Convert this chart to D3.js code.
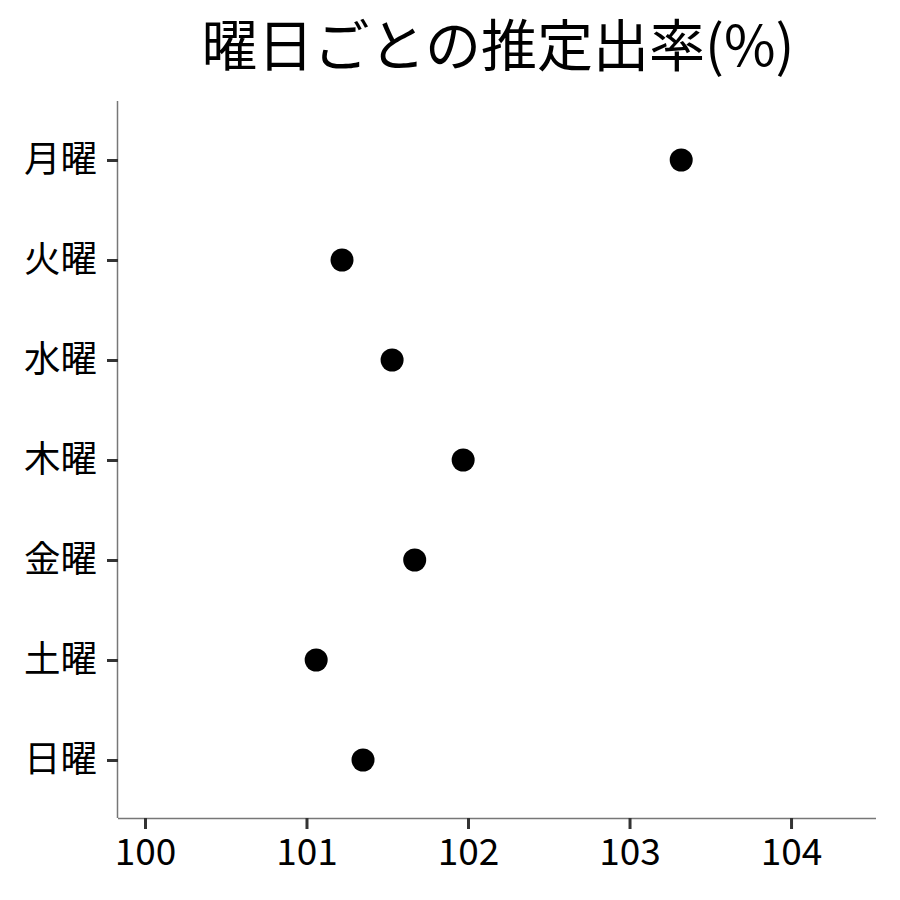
<!DOCTYPE html>
<html><head><meta charset="utf-8">
<script src="https://cdn.jsdelivr.net/npm/d3@7"></script>
<style>body{margin:0;background:#fff}svg{display:block}text{font-family:"Noto Sans CJK JP","Noto Sans",sans-serif}</style>
</head><body><svg id="c" width="900" height="900"></svg>
<script>
const days = ["月曜","火曜","水曜","木曜","金曜","土曜","日曜"];
const rates = [103.32, 101.22, 101.53, 101.97, 101.67, 101.06, 101.35];
const xTicks = [100, 101, 102, 103, 104];
const title = "曜日ごとの推定出率(%)";

const svg = d3.select("#c");
const L = 118, R = 876, T = 101, B = 818;
const x = d3.scaleLinear().domain([99.833, 104.526]).range([L, R]);
const y = d3.scalePoint().domain(days).range([160, 760]);

svg.append("text").attr("x", 498).attr("y", 66).attr("text-anchor", "middle")
  .attr("font-size", 56).attr("fill", "#000").text(title);

const xa = svg.append("g").attr("transform", `translate(0,${B})`)
  .call(d3.axisBottom(x).tickValues(xTicks).tickSize(11).tickPadding(10).tickFormat(d3.format("d")));
xa.select(".domain").attr("stroke", "#777").attr("stroke-width", 1.5).attr("d", `M${L},0.5H${R}`);
xa.selectAll(".tick line").attr("stroke", "#333").attr("stroke-width", 3);
xa.selectAll(".tick text").attr("font-size", 37).attr("fill", "#000").attr("font-family", '"Noto Sans CJK JP",sans-serif');

const ya = svg.append("g").attr("transform", `translate(${L},0)`)
  .call(d3.axisLeft(y).tickSize(11).tickPadding(10));
ya.select(".domain").attr("stroke", "#777").attr("stroke-width", 1.5).attr("d", `M-0.5,${T}V${B}`);
ya.selectAll(".tick line").attr("stroke", "#333").attr("stroke-width", 3);
ya.selectAll(".tick text").attr("font-size", 36.5).attr("fill", "#000").attr("font-family", '"Noto Sans CJK JP",sans-serif');

svg.append("g").selectAll("circle").data(days).join("circle")
  .attr("cx", (d, i) => x(rates[i])).attr("cy", d => y(d)).attr("r", 11.5).attr("fill", "#000");
</script></body></html>
